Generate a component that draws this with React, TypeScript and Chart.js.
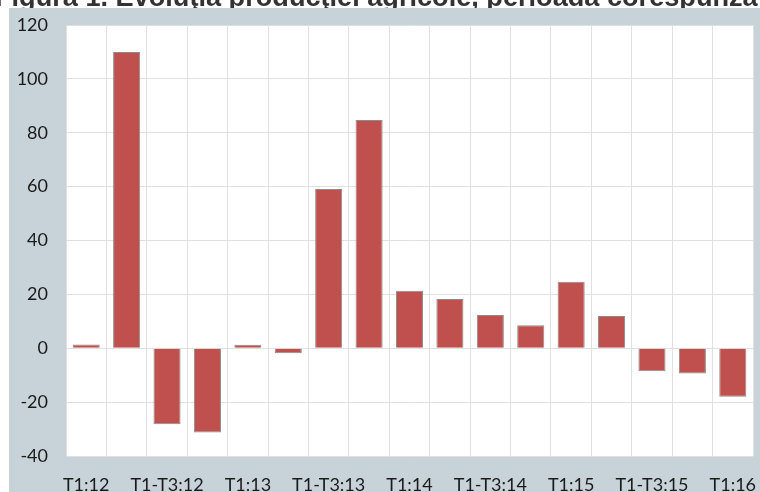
import React, { useEffect, useRef } from "react";
import { Chart, registerables } from "chart.js";

Chart.register(...registerables);

const categories = [
  "T1:12", "T1-T2:12", "T1-T3:12", "T1-T4:12",
  "T1:13", "T1-T2:13", "T1-T3:13", "T1-T4:13",
  "T1:14", "T1-T2:14", "T1-T3:14", "T1-T4:14",
  "T1:15", "T1-T2:15", "T1-T3:15", "T1-T4:15",
  "T1:16",
];
const values = [1.4, 110, -28.2, -31.3, 1.3, -1.9, 59.1, 84.7, 21.3, 18.3, 12.3, 8.5, 24.7, 12.0, -8.5, -9.4, -18.0];
const yTicks = [-40, -20, 0, 20, 40, 60, 80, 100, 120];
const titleText = "Figura 1. Evoluţia producţiei agricole, perioada corespunză";

const PANEL = "#c8d3d9";

const backgroundPlugin = {
  id: "panelBg",
  beforeDraw(chart: any) {
    const { ctx, chartArea, width, height } = chart;
    ctx.save();
    ctx.fillStyle = "#ffffff";
    ctx.fillRect(0, 0, width, height);
    ctx.font = "bold 21px 'Liberation Sans', Arial, sans-serif";
    const w = ctx.measureText(titleText).width;
    const size = (21 * 763) / w;
    ctx.font = `bold ${size}px 'Liberation Sans', Arial, sans-serif`;
    ctx.fillStyle = "#333333";
    ctx.textAlign = "left";
    ctx.textBaseline = "alphabetic";
    ctx.fillText(titleText, -5, 6);
    ctx.fillStyle = PANEL;
    ctx.fillRect(9, 8, width - 9, height - 8);
    ctx.fillStyle = "#ffffff";
    ctx.fillRect(chartArea.left, chartArea.top, chartArea.right - chartArea.left, chartArea.bottom - chartArea.top);
    ctx.restore();
  },
};

export default function App() {
  const ref = useRef<HTMLCanvasElement | null>(null);
  useEffect(() => {
    if (!ref.current) return;
    const chart = new Chart(ref.current, {
      type: "bar",
      data: {
        labels: categories,
        datasets: [
          {
            data: values,
            backgroundColor: "#c0504d",
            borderColor: "#8c8c8c",
            borderWidth: 1,
            barPercentage: 0.67,
            categoryPercentage: 1,
          },
        ],
      },
      options: {
        responsive: false,
        animation: false,
        layout: { padding: { left: 9, top: 25, right: 7, bottom: 0 } },
        plugins: { legend: { display: false }, title: { display: false }, tooltip: { enabled: false } },
        scales: {
          x: {
            grid: { color: "#e0e0e0", lineWidth: 1, drawTicks: false, offset: true },
            border: { display: false },
            ticks: {
              autoSkip: false,
              maxRotation: 0,
              minRotation: 0,
              padding: 18,
              color: "#1a1a1a",
              font: { family: "Lato", size: 18 },
              callback: (_v: any, i: number) => (i % 2 === 0 ? categories[i] : ""),
            },
            afterFit: (s: any) => { s.height = 36; s.paddingLeft = 0; s.paddingRight = 0; },
          },
          y: {
            min: -40,
            max: 120,
            afterBuildTicks: (s: any) => { s.ticks = yTicks.map((v) => ({ value: v })); },
            grid: { color: "#e0e0e0", lineWidth: 1, drawTicks: false },
            border: { display: false },
            ticks: {
              padding: 18,
              color: "#1a1a1a",
              font: { family: "Lato", size: 18 },
            },
            afterFit: (s: any) => { s.width = 57; s.paddingTop = 0; s.paddingBottom = 0; },
          },
        },
      },
      plugins: [backgroundPlugin],
    });
    return () => chart.destroy();
  }, []);
  return (
    <div style={{ position: "absolute", left: 0, top: 0, width: 760, height: 492 }}>
      <canvas ref={ref} width={760} height={492} />
    </div>
  );
}
